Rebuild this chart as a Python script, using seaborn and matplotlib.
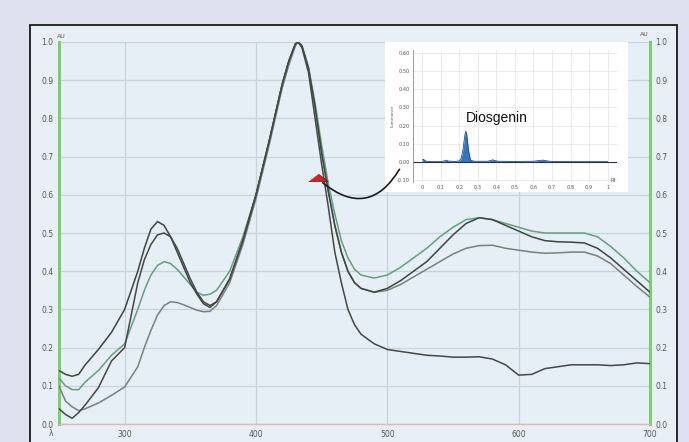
import matplotlib
matplotlib.use("Agg")
import matplotlib.pyplot as plt
import seaborn as sns
import pandas as pd
from matplotlib.patches import Rectangle, FancyArrowPatch

# UV spectra (nm vs AU)
wavelength = [250, 255, 260, 265, 270, 280, 290, 300, 310, 315, 320, 325, 330, 335, 340,
              345, 350, 355, 360, 365, 370, 380, 390, 400, 410, 420, 425, 430, 432, 435,
              440, 445, 450, 455, 460, 465, 470, 475, 480, 490, 500, 510, 520, 530, 540,
              550, 560, 570, 580, 590, 600, 610, 620, 630, 640, 650, 660, 670, 680, 690, 700]

spec_a = [0.14, 0.13, 0.125, 0.13, 0.155, 0.195, 0.24, 0.30, 0.40, 0.46, 0.51, 0.53, 0.52, 0.49, 0.45,
          0.41, 0.37, 0.34, 0.315, 0.305, 0.32, 0.38, 0.48, 0.60, 0.74, 0.89, 0.95, 0.995, 1.0, 0.99,
          0.93, 0.83, 0.71, 0.61, 0.52, 0.45, 0.40, 0.37, 0.355, 0.345, 0.355, 0.375, 0.40, 0.425, 0.46,
          0.495, 0.525, 0.54, 0.535, 0.52, 0.505, 0.49, 0.48, 0.477, 0.476, 0.474, 0.46, 0.435, 0.405, 0.375, 0.345]

spec_b = [0.12, 0.10, 0.09, 0.09, 0.11, 0.14, 0.18, 0.21, 0.30, 0.35, 0.39, 0.415, 0.425, 0.42, 0.405,
          0.385, 0.365, 0.345, 0.337, 0.34, 0.35, 0.40, 0.49, 0.60, 0.74, 0.89, 0.95, 0.995, 1.0, 0.99,
          0.935, 0.84, 0.73, 0.63, 0.55, 0.48, 0.435, 0.405, 0.39, 0.382, 0.39, 0.41, 0.435, 0.46, 0.49,
          0.515, 0.535, 0.54, 0.535, 0.525, 0.515, 0.505, 0.50, 0.50, 0.50, 0.50, 0.49, 0.465, 0.435, 0.40, 0.37]

spec_c = [0.10, 0.06, 0.045, 0.035, 0.04, 0.055, 0.075, 0.097, 0.15, 0.20, 0.245, 0.285, 0.31, 0.32, 0.318,
          0.312, 0.305, 0.298, 0.294, 0.295, 0.31, 0.37, 0.47, 0.59, 0.73, 0.88, 0.94, 0.99, 1.0, 0.99,
          0.93, 0.83, 0.71, 0.61, 0.52, 0.45, 0.40, 0.37, 0.355, 0.345, 0.35, 0.365, 0.385, 0.405, 0.425,
          0.445, 0.46, 0.467, 0.468, 0.46, 0.455, 0.45, 0.447, 0.448, 0.45, 0.45, 0.44, 0.42, 0.39, 0.36, 0.332]

spec_d = [0.04, 0.025, 0.015, 0.03, 0.05, 0.095, 0.165, 0.20, 0.37, 0.43, 0.47, 0.495, 0.50, 0.49, 0.46,
          0.42, 0.38, 0.345, 0.32, 0.31, 0.32, 0.38, 0.48, 0.60, 0.74, 0.89, 0.95, 0.995, 1.0, 0.985,
          0.92, 0.80, 0.68, 0.57, 0.45, 0.37, 0.30, 0.26, 0.235, 0.21, 0.195, 0.19, 0.185, 0.18, 0.178,
          0.175, 0.175, 0.176, 0.17, 0.155, 0.128, 0.13, 0.145, 0.15, 0.155, 0.155, 0.155, 0.153, 0.155, 0.16, 0.158]

sample_colors = {'C': '#7b807c', 'B': '#64a07e', 'A': '#3e4641', 'D': '#474747'}

# HPTLC densitogram in the inset
rf = [0.0, 0.005, 0.01, 0.02, 0.05, 0.1, 0.12, 0.13, 0.14, 0.18, 0.2, 0.21, 0.22, 0.23, 0.235,
      0.24, 0.25, 0.26, 0.28, 0.35, 0.37, 0.38, 0.39, 0.41, 0.5, 0.6, 0.63, 0.65, 0.68, 0.7,
      0.8, 0.9, 1.0]
luminance = [0.01, 0.015, 0.012, 0.004, 0.002, 0.002, 0.006, 0.01, 0.005, 0.003, 0.006, 0.02, 0.07, 0.15, 0.17,
             0.15, 0.06, 0.01, 0.004, 0.004, 0.008, 0.012, 0.008, 0.004, 0.003, 0.004, 0.008, 0.01, 0.005, 0.003,
             0.002, 0.002, 0.002]

x_ticks = [300, 400, 500, 600, 700]
y_ticks = [0.0, 0.1, 0.2, 0.3, 0.4, 0.5, 0.6, 0.7, 0.8, 0.9, 1.0]
rf_ticks = [0, 0.1, 0.2, 0.3, 0.4, 0.5, 0.6, 0.7, 0.8, 0.9, 1]
rf_labels = ['0', '0.1', '0.2', '0.3', '0.4', '0.5', '0.6', '0.7', '0.8', '0.9', '1']
lum_ticks = [-0.1, 0.0, 0.1, 0.2, 0.3, 0.4, 0.5, 0.6]

sns.set_style("white")
plt.rcParams['font.family'] = ['DejaVu Sans']

fig = plt.figure(figsize=(6.89, 4.42), dpi=100, facecolor='#dfe1ef')
# framed panel behind the plot
fig.add_artist(Rectangle((0.0435, -0.02), 0.939, 0.9634, transform=fig.transFigure,
                         facecolor='#e8eff6', edgecolor='#1a1a1a', lw=1.3, zorder=-1))

ax = fig.add_axes([0.0856, 0.0407, 0.8578, 0.8643])
ax.set_facecolor('#e6eef6')

df = pd.concat([
    pd.DataFrame({'nm': wavelength, 'AU': spec_c, 'sample': 'C'}),
    pd.DataFrame({'nm': wavelength, 'AU': spec_b, 'sample': 'B'}),
    pd.DataFrame({'nm': wavelength, 'AU': spec_a, 'sample': 'A'}),
    pd.DataFrame({'nm': wavelength, 'AU': spec_d, 'sample': 'D'}),
])
sns.lineplot(data=df, x='nm', y='AU', hue='sample', palette=sample_colors,
             linewidth=1.1, legend=False, ax=ax, zorder=3)

ax.set_xlim(250, 700)
ax.set_ylim(0, 1)
ax.set_xticks(x_ticks)
ax.set_xticklabels([str(t) for t in x_ticks])
ax.set_yticks(y_ticks)
ax.set_yticklabels(['%.1f' % t for t in y_ticks])
ax.set_xlabel('')
ax.set_ylabel('')
ax.grid(True, color='#c9d3de', lw=0.9)
ax.tick_params(length=0, labelsize=5.5, labelcolor='#5a5a5a', pad=4,
               labelright=True)
for side in ['left', 'right']:
    ax.spines[side].set_color('#7bcf68')
    ax.spines[side].set_linewidth(2.2)
ax.spines['bottom'].set_color('#e6b3b8')
ax.spines['bottom'].set_linewidth(1.0)
ax.spines['top'].set_visible(False)

ax.text(-0.014, -0.026, 'λ', transform=ax.transAxes, fontsize=5.5, color='#5a5a5a',
        ha='center', va='center')
ax.text(-0.004, 1.008, 'AU', transform=ax.transAxes, fontsize=4.5, color='#5a5a5a',
        ha='left', va='bottom')
ax.text(0.998, 1.012, 'AU', transform=ax.transAxes, fontsize=4.5, color='#5a5a5a',
        ha='right', va='bottom')

# red arrow head on the spectrum
ax.plot([447], [0.636], marker=[(-1, 0), (1, 0), (0, 0.75)], markersize=14,
        color='#d42020', markeredgecolor='#5a1a1a', markeredgewidth=0.5, zorder=5)

# inset densitogram
fig.add_artist(Rectangle((0.5588, 0.5656), 0.3527, 0.3394, transform=fig.transFigure,
                         facecolor='white', edgecolor='none', zorder=1))
axi = fig.add_axes([0.5994, 0.5882, 0.296, 0.2986], zorder=2)
axi.set_facecolor('none')
axi.fill_between(rf, luminance, 0, color='#2f78c4', lw=0)
sns.lineplot(x=rf, y=luminance, color='#1d4f8c', linewidth=0.6, ax=axi)
axi.axhline(0, color='#25304a', lw=0.8)
axi.set_xlim(-0.05, 1.05)
axi.set_ylim(-0.11, 0.615)
axi.set_xticks(rf_ticks)
axi.set_xticklabels(rf_labels)
axi.set_yticks(lum_ticks)
axi.set_yticklabels(['%.2f' % t for t in lum_ticks])
axi.grid(True, color='#e2e2e2', lw=0.5)
axi.tick_params(length=0, labelsize=3.6, labelcolor='#555555', pad=2)
for side in ['top', 'right', 'bottom']:
    axi.spines[side].set_visible(False)
axi.spines['left'].set_color('#888888')
axi.spines['left'].set_linewidth(0.6)
axi.set_ylabel('Luminance', fontsize=3, color='#555555', labelpad=2)
axi.set_xlabel('')
axi.text(1.03, -0.1, 'Rf', fontsize=3.6, color='#555555', ha='center', va='center')
axi.text(0.40, 0.24, 'Diosgenin', fontsize=10, family=['Liberation Sans', 'DejaVu Sans'],
         color='#111111', ha='center', va='center')

# curved connector from the inset to the spectrum
arc = FancyArrowPatch((510.3, 0.673), (449.2, 0.636), transform=ax.transData,
                      connectionstyle='arc3,rad=-0.6', arrowstyle='-',
                      color='#1a1a1a', lw=1.2, zorder=3)
fig.add_artist(arc)

fig.savefig('out.png', dpi=100, facecolor=fig.get_facecolor())
